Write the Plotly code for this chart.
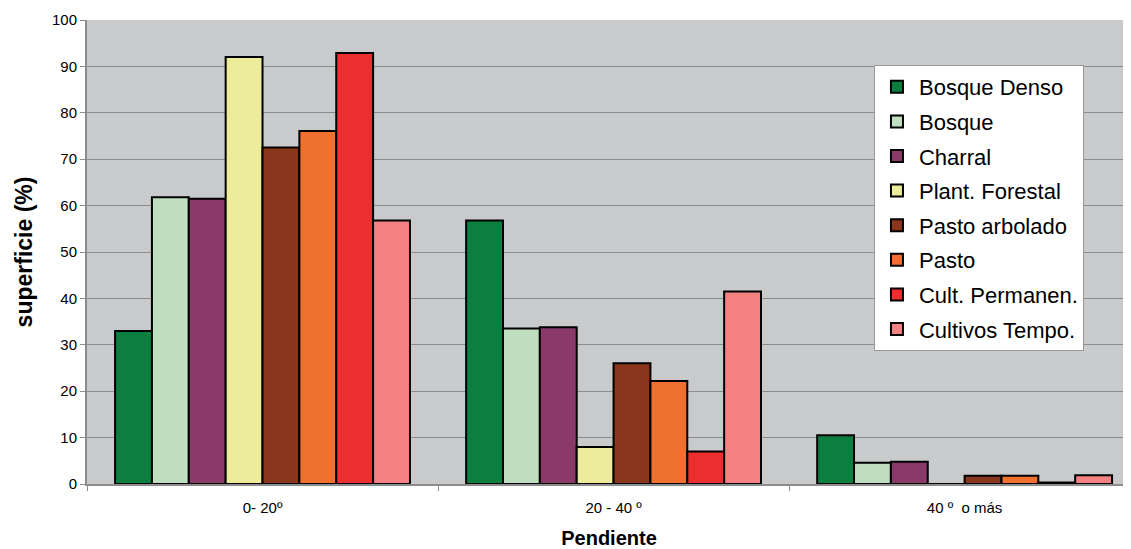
import plotly.graph_objects as go

categories = ["0- 20º", "20 - 40 º", "40 º  o más"]
series_names = ["Bosque Denso", "Bosque", "Charral", "Plant. Forestal",
                "Pasto arbolado", "Pasto", "Cult. Permanen.", "Cultivos Tempo."]
bosque_denso = [33.0, 56.8, 10.5]
bosque = [61.8, 33.5, 4.6]
charral = [61.5, 33.8, 4.8]
plant_forestal = [92.0, 8.0, 0.0]
pasto_arbolado = [72.5, 26.0, 1.8]
pasto = [76.1, 22.2, 1.8]
cult_permanen = [92.9, 7.0, 0.3]
cultivos_tempo = [56.8, 41.5, 1.9]

values = [bosque_denso, bosque, charral, plant_forestal,
          pasto_arbolado, pasto, cult_permanen, cultivos_tempo]
colors = ["#0a7f3f", "#c0dfc0", "#8a3a68", "#ecec9a",
          "#8a361c", "#f07030", "#ec2e2e", "#f48282"]

fig = go.Figure()
for i, (name, vals, col) in enumerate(zip(series_names, values, colors)):
    fig.add_trace(go.Bar(name=name, x=categories, y=vals, legendgroup=f"g{i}",
                         marker=dict(color=col, line=dict(color="black", width=2))))

fig.update_layout(
    width=1123, height=541,
    margin=dict(l=79, r=0, t=12, b=65),
    paper_bgcolor="white", plot_bgcolor="#c9cacc",
    barmode="group", bargap=0.16, bargroupgap=0,
    font=dict(family="Liberation Sans, Arial, sans-serif", color="black"),
    legend=dict(x=0.7538, y=0.903, xanchor="left", yanchor="top",
                bgcolor="white", bordercolor="#999999", borderwidth=1,
                font=dict(size=22), tracegroupgap=3, itemwidth=34,
                entrywidth=190, entrywidthmode="pixels"),
    showlegend=True,
)
fig.update_yaxes(range=[0, 100], dtick=10, showgrid=True, gridcolor="#8c8c8c", gridwidth=1,
                 showline=True, linecolor="#8c8c8c", linewidth=2, ticks="outside",
                 ticklen=5, tickcolor="#8c8c8c", tickfont=dict(size=15),
                 zeroline=False, automargin=False,
                 title=dict(text="<b>superficie (%)</b>", font=dict(size=23), standoff=13))
fig.update_xaxes(range=[-0.5, 2.474], showline=True, linecolor="#8c8c8c", linewidth=2,
                 ticks="outside", tickson="boundaries", ticklen=5, tickcolor="#8c8c8c",
                 tickfont=dict(size=15), automargin=False, ticklabelstandoff=9,
                 title=dict(text="<b>Pendiente</b>", font=dict(size=20), standoff=22))

fig.write_html("out.html")
